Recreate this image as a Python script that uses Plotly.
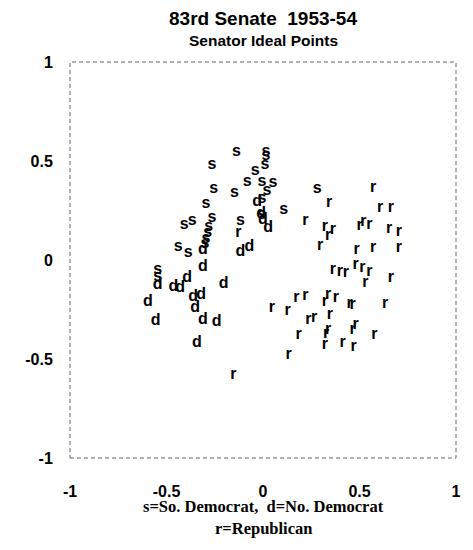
import plotly.graph_objects as go

# So. Democrats (s)
s_x = [-0.138, 0.015, 0.015, 0.010, -0.265, -0.041, -0.082, -0.005, 0.051, 0.020,
       -0.148, -0.255, 0.281, -0.296, 0.107, -0.005, -0.265, -0.367, -0.408, -0.281,
       -0.286, -0.296, -0.117, -0.439, -0.388, -0.546, -0.546, -0.005, -0.301]
s_y = [0.543, 0.543, 0.523, 0.482, 0.482, 0.447, 0.396, 0.396, 0.391, 0.350,
       0.340, 0.360, 0.360, 0.284, 0.254, 0.310, 0.213, 0.198, 0.178, 0.168,
       0.137, 0.107, 0.198, 0.066, 0.036, -0.051, -0.086, 0.228, 0.081]

# No. Democrats (d)
d_x = [-0.031, -0.010, 0.000, 0.026, -0.117, -0.071, -0.311, -0.311, -0.546, -0.464,
       -0.429, -0.393, -0.204, -0.597, -0.362, -0.321, -0.352, -0.311, -0.240, -0.556,
       -0.342]
d_y = [0.294, 0.234, 0.203, 0.162, 0.041, 0.066, 0.051, -0.036, -0.127, -0.137,
       -0.142, -0.091, -0.122, -0.213, -0.188, -0.178, -0.244, -0.305, -0.315, -0.310,
       -0.421]

# Republicans (r)
r_x = [-0.128, 0.571, 0.342, 0.607, 0.663, 0.219, 0.321, 0.362, 0.337, 0.296,
       0.500, 0.520, 0.551, 0.653, 0.704, 0.485, 0.571, 0.704, 0.362, 0.398,
       0.429, 0.480, 0.515, 0.551, 0.531, 0.663, 0.046, 0.128, 0.173, 0.219,
       0.337, 0.378, 0.321, 0.449, 0.464, 0.633, 0.235, 0.265, 0.347, 0.337,
       0.327, 0.464, 0.480, 0.184, 0.577, 0.321, 0.413, 0.469, 0.133, -0.153]
r_y = [0.137, 0.365, 0.289, 0.264, 0.264, 0.198, 0.168, 0.152, 0.122, 0.071,
       0.173, 0.193, 0.178, 0.157, 0.142, 0.051, 0.061, 0.061, -0.051, -0.061,
       -0.066, -0.025, -0.041, -0.061, -0.117, -0.091, -0.244, -0.259, -0.193, -0.183,
       -0.178, -0.193, -0.213, -0.223, -0.228, -0.223, -0.305, -0.294, -0.279, -0.355,
       -0.376, -0.355, -0.330, -0.381, -0.381, -0.431, -0.421, -0.437, -0.482, -0.579]

tick_vals = [-1, -0.5, 0, 0.5, 1]
tick_text = ["-1", "-0.5", "0", "0.5", "1"]

fig = go.Figure()
mark_font = dict(family="Liberation Sans, Arial", size=16, color="black", weight="bold")
for xs, ys, letter in [(s_x, s_y, "s"), (d_x, d_y, "d"), (r_x, r_y, "r")]:
    fig.add_trace(go.Scatter(
        x=xs, y=ys, mode="text", text=[letter] * len(xs),
        textposition="middle center", textfont=mark_font,
        showlegend=False, hoverinfo="skip"))

axis_common = dict(
    range=[-1, 1], showgrid=False, zeroline=False, showline=False,
    tickvals=tick_vals, ticktext=tick_text, ticks="outside", tickcolor="white",
    tickfont=dict(family="Liberation Sans, Arial", size=16, color="black", weight="bold"),
)
fig.update_xaxes(**axis_common, ticklen=19)
fig.update_yaxes(**axis_common, ticklen=13)

fig.add_shape(type="rect", xref="paper", yref="paper", x0=0, y0=0, x1=1, y1=1,
              line=dict(color="#666666", width=1, dash="4px,3px"))

fig.add_annotation(text="83rd Senate  1953-54", xref="paper", yref="paper",
                   x=0.5, y=1, yshift=44, showarrow=False, yanchor="middle",
                   font=dict(family="Liberation Sans, Arial", size=19, color="black", weight="bold"))
fig.add_annotation(text="Senator Ideal Points", xref="paper", yref="paper",
                   x=0.5, y=1, yshift=22, showarrow=False, yanchor="middle",
                   font=dict(family="Liberation Sans, Arial", size=15.5, color="black", weight="bold"))
fig.add_annotation(text="s=So. Democrat,  d=No. Democrat", xref="paper", yref="paper",
                   x=0.5, y=0, yshift=-48, showarrow=False, yanchor="middle",
                   font=dict(family="Liberation Serif, Times New Roman", size=16.5, color="black", weight="bold"))
fig.add_annotation(text="r=Republican", xref="paper", yref="paper",
                   x=0.5, y=0, yshift=-70, showarrow=False, yanchor="middle",
                   font=dict(family="Liberation Serif, Times New Roman", size=16.5, color="black", weight="bold"))

fig.update_layout(
    width=473, height=550,
    margin=dict(l=70, r=13, t=62, b=92),
    paper_bgcolor="white", plot_bgcolor="white",
)

fig.write_html("out.html")
